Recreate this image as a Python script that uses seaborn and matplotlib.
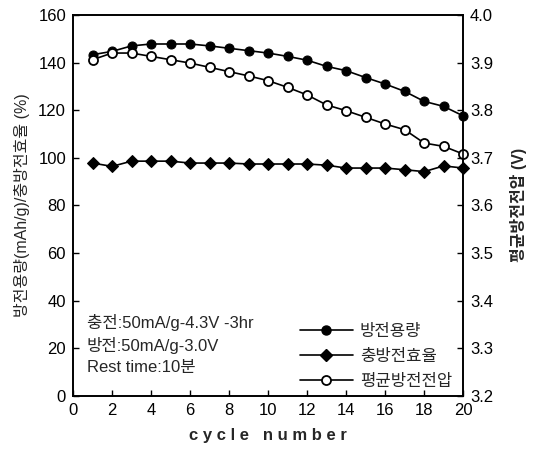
import numpy as np
import pandas as pd
import seaborn as sns
import matplotlib.pyplot as plt
from matplotlib.lines import Line2D

cycles = list(range(1, 21))
capacity = [143.3, 144.7, 147.0, 147.8, 147.8, 147.8, 147.0, 146.0, 145.0, 144.0,
            142.6, 141.0, 138.4, 136.6, 133.7, 131.0, 127.9, 123.7, 121.6, 117.6]
efficiency = [97.8, 96.4, 98.6, 98.6, 98.6, 97.8, 97.8, 97.8, 97.4, 97.4,
              97.4, 97.4, 96.9, 95.7, 95.7, 95.7, 95.0, 94.2, 96.6, 95.7]
voltage = [3.906, 3.920, 3.920, 3.913, 3.906, 3.899, 3.890, 3.881, 3.872, 3.862,
           3.848, 3.832, 3.811, 3.799, 3.785, 3.771, 3.759, 3.731, 3.724, 3.708]

labels = ['방전용량', '충방전효율', '평균방전전압']
note = ['충전:50mA/g-4.3V -3hr', '방전:50mA/g-3.0V', 'Rest time:10분']

df = pd.DataFrame({'cycle': cycles, 'cap': capacity, 'eff': efficiency, 'volt': voltage})

sns.set_style('ticks')
plt.rcParams['font.family'] = ['Liberation Sans', 'Noto Sans CJK KR', 'DejaVu Sans']

fig = plt.figure(figsize=(5.33, 4.53), dpi=100)
ax = fig.add_axes([0.137, 0.126, 0.732, 0.841])
ax2 = ax.twinx()

sns.lineplot(data=df, x='cycle', y='cap', ax=ax, color='black', lw=1.2, clip_on=False,
             marker='o', markersize=6.5, markerfacecolor='black', markeredgecolor='black')
sns.lineplot(data=df, x='cycle', y='eff', ax=ax, color='black', lw=1.2, clip_on=False,
             marker='D', markersize=6, markerfacecolor='black', markeredgecolor='black')
sns.lineplot(data=df, x='cycle', y='volt', ax=ax2, color='black', lw=1.2, clip_on=False,
             marker='o', markersize=6.5, markerfacecolor='white', markeredgecolor='black',
             markeredgewidth=1.3)

ax.set_xlim(0, 20)
ax.set_ylim(0, 160)
ax2.set_ylim(3.2, 4.0)
ax.set_xticks(range(0, 21, 2))
ax.set_yticks(range(0, 161, 20))
ax2.set_yticks(np.arange(3.2, 4.01, 0.1))
ax2.set_yticklabels([f'{v:.1f}' for v in np.arange(3.2, 4.01, 0.1)])

for a in (ax, ax2):
    a.tick_params(direction='in', labelsize=12, length=4, width=1, colors='black', pad=5)
    for s in a.spines.values():
        s.set_linewidth(1.2)
        s.set_color('black')
        s.set_visible(True)

ax.set_xlabel('c y c l e   n u m b e r', fontsize=12, fontweight='bold', labelpad=7)
ax.set_ylabel('방전용량(mAh/g)/충방전효율 (%)', fontsize=11.5, labelpad=6)
ax2.set_ylabel('평균방전전압 (V)', fontsize=11.5, fontweight='bold', rotation=90, labelpad=12)

ax.text(0.035, 0.135, '\n'.join(note), transform=ax.transAxes, fontsize=12,
        va='center', ha='left', linespacing=1.45)

handles = [
    Line2D([], [], color='black', lw=1.2, marker='o', markersize=6.5, markerfacecolor='black'),
    Line2D([], [], color='black', lw=1.2, marker='D', markersize=6, markerfacecolor='black'),
    Line2D([], [], color='black', lw=1.2, marker='o', markersize=6.5, markerfacecolor='white',
           markeredgewidth=1.3),
]
ax.legend(handles, labels, loc='lower right', bbox_to_anchor=(1.01, -0.02), frameon=False,
          fontsize=12, handlelength=3.2, labelspacing=0.6, handletextpad=0.4)

fig.savefig('out.png', dpi=100)
